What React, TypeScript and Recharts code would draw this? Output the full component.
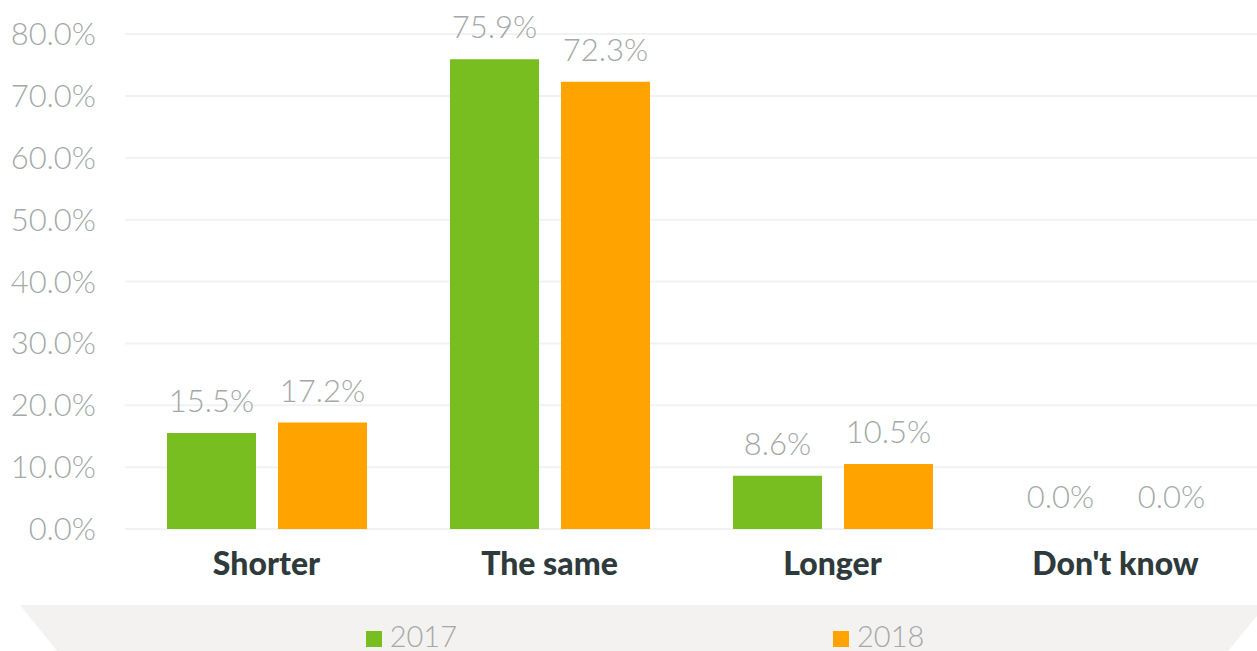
import { BarChart, Bar, XAxis, YAxis, CartesianGrid, Legend, LabelList, Rectangle } from "recharts";

const categories = ["Shorter", "The same", "Longer", "Don't know"];
const values2017 = [15.5, 75.9, 8.6, 0.0];
const values2018 = [17.2, 72.3, 10.5, 0.0];
const yTicks = [0, 10, 20, 30, 40, 50, 60, 70, 80];
const seriesNames = ["2017", "2018"];

const GREEN = "#78BE20";
const ORANGE = "#FFA300";
const GREY_TEXT = "#A3A9A7";
const DARK = "#2E3A3B";
const FONT = "Lato, 'Open Sans', sans-serif";

const data = categories.map((name, i) => ({
  name,
  y2017: values2017[i],
  y2018: values2018[i],
}));

const pct = (v: number) => `${v.toFixed(1)}%`;

// minPointSize keeps the 0% bars in the label list, the shape just doesn't paint them
const BarShape = (props: any) => {
  if (!props.value || (Array.isArray(props.value) && props.value[1] === 0)) return <g />;
  return <Rectangle {...props} />;
};

// value above each bar, also drawn for the 0.0% ones
const ValueLabel = (props: any) => {
  const { x, y, width, height, value } = props;
  if (x == null || y == null) return null;
  const top = Number(value) === 0 ? Number(y) + Number(height) : Number(y);
  return (
    <text
      x={Number(x) + Number(width) / 2}
      y={top - 21}
      textAnchor="middle"
      fill={GREY_TEXT}
      fontSize={31}
      fontWeight={300}
      fontFamily={FONT}
    >
      {pct(Number(value))}
    </text>
  );
};

// legend: grey slanted band with the two series in it
const LegendBand = (props: any) => {
  const items = props.payload || [];
  return (
    <div style={{ position: "relative", width: 1257, height: 46 }}>
      <svg width={1257} height={46} style={{ position: "absolute", left: 0, top: 0 }}>
        <polygon points="20,0 1266,0 1228,46 57,46" fill="#F3F2F0" />
      </svg>
      <div
        style={{
          position: "absolute",
          left: 0,
          top: 0,
          width: 1257,
          height: 46,
          display: "flex",
          justifyContent: "center",
          alignItems: "flex-end",
          gap: 376,
          paddingLeft: 33,
          boxSizing: "border-box",
        }}
      >
        {items.map((it: any) => (
          <div key={it.value} style={{ display: "flex", alignItems: "center", height: 30 }}>
            <span style={{ width: 16, height: 16, background: it.color, marginRight: 8, marginTop: 6 }} />
            <span style={{ fontFamily: FONT, fontWeight: 300, fontSize: 29, color: GREY_TEXT, lineHeight: "30px" }}>
              {it.value}
            </span>
          </div>
        ))}
      </div>
    </div>
  );
};

export default function App() {
  return (
    <div style={{ position: "absolute", left: 0, top: 0, background: "#fff" }}>
      <BarChart
        width={1257}
        height={651}
        data={data}
        margin={{ top: 34, right: 0, left: 0, bottom: 0 }}
        barCategoryGap={42}
        barGap={22}
      >
        <CartesianGrid vertical={false} stroke="#F1F3F3" strokeWidth={2} />
        <XAxis
          dataKey="name"
          height={76}
          axisLine={false}
          tickLine={false}
          tickMargin={17}
          tick={{ fill: DARK, fontSize: 32, fontWeight: 900, fontFamily: FONT }}
        />
        <YAxis
          width={125}
          domain={[0, 80]}
          ticks={yTicks}
          axisLine={false}
          tickLine={false}
          tickMargin={23}
          tickFormatter={pct}
          tick={{ fill: GREY_TEXT, fontSize: 31, fontWeight: 300, fontFamily: FONT }}
        />
        <Legend verticalAlign="bottom" height={46} content={LegendBand} />
        <Bar dataKey="y2017" name={seriesNames[0]} fill={GREEN} minPointSize={1} shape={BarShape} isAnimationActive={false}>
          <LabelList dataKey="y2017" content={ValueLabel} />
        </Bar>
        <Bar dataKey="y2018" name={seriesNames[1]} fill={ORANGE} minPointSize={1} shape={BarShape} isAnimationActive={false}>
          <LabelList dataKey="y2018" content={ValueLabel} />
        </Bar>
      </BarChart>
    </div>
  );
}
